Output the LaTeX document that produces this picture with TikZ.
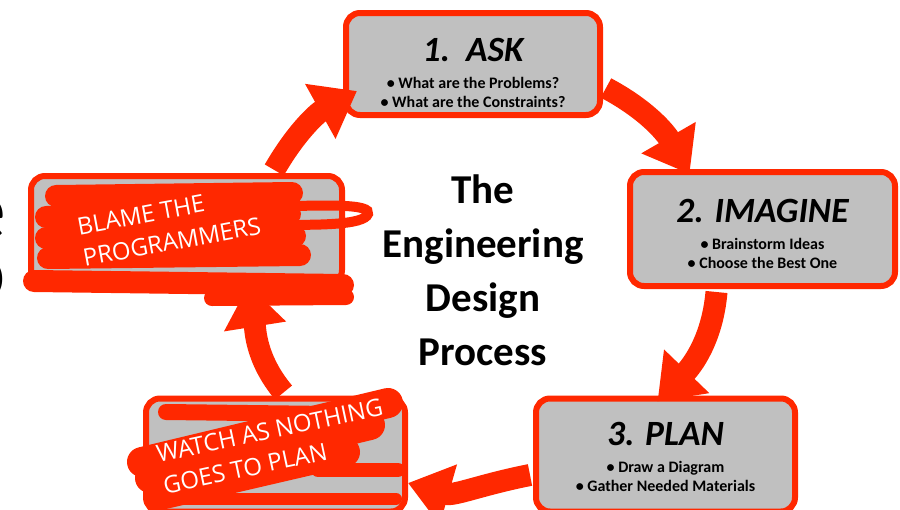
\documentclass[tikz,border=0pt]{standalone}
\usepackage{fontspec}
\setmainfont{Carlito}
\newfontfamily\scribblefont{Open Sans}
\usetikzlibrary{%
    arrows.meta,
    positioning
}
\definecolor{edpred}{RGB}{255,40,0}
\definecolor{boxgray}{RGB}{192,192,192}
\tikzset{stepbox/.style = {draw=edpred, fill=boxgray, line width=6pt, rounded corners=14pt, inner sep=0pt}}
\tikzset{steptitle/.style = {inner sep=0pt, font=\fontsize{35.5}{36}\selectfont\bfseries\itshape}}
\tikzset{stepitems/.style = {inner sep=0pt, align=center, font=\fontsize{16}{19}\selectfont\bfseries}}
\tikzset{cyclearrow/.style = {draw=edpred, line width=22pt, -{Triangle[length=42pt,width=60pt]}}}
\tikzset{scribble/.style = {draw=edpred, line width=22pt, line cap=round}}
\tikzset{scribbletext/.style = {text=white, inner sep=0pt, align=left, font=\scribblefont\fontsize{24}{32}\selectfont}}

\begin{document}
\begin{tikzpicture}[x=1pt, y=-1pt]
    \useasboundingbox (0,0) rectangle (900,509);

    \node[anchor=east, inner sep=0pt, font=\fontsize{88}{88}\selectfont] (edge-e) at (6,218) {e};
    \node[anchor=east, inner sep=0pt, font=\fontsize{88}{88}\selectfont] (edge-o) at (6,279) {o};

    \node[stepbox, minimum width=254pt, minimum height=102pt] (box-ask) at (473,64) {};
    \node[stepbox, minimum width=265pt, minimum height=114pt] (box-imagine) at (762.5,229) {};
    \node[stepbox, minimum width=259pt, minimum height=113pt] (box-plan) at (665.5,455) {};
    \node[stepbox, minimum width=259pt, minimum height=113pt] (box-watch) at (275.5,455) {};
    \node[stepbox, minimum width=311pt, minimum height=108pt] (box-blame) at (186.5,230) {};

    \node[steptitle, below=28pt of box-ask.north] (title-ask) {1.~~ASK};
    \node[stepitems, below=15pt of title-ask] (items-ask) {\textbullet{} What are the Problems?\\\textbullet{} What are the Constraints?};
    \node[steptitle, below=30pt of box-imagine.north] (title-imagine) {2. IMAGINE};
    \node[stepitems, below=15pt of title-imagine] (items-imagine) {\textbullet{} Brainstorm Ideas\\\textbullet{} Choose the Best One};
    \node[steptitle, below=27pt of box-plan.north] (title-plan) {3. PLAN};
    \node[stepitems, below=15pt of title-plan] (items-plan) {\textbullet{} Draw a Diagram\\\textbullet{} Gather Needed Materials};

    \node[align=center, inner sep=0pt, font=\fontsize{41}{54}\selectfont\bfseries] (cycle-title) at (483,270) {The\\Engineering\\Design\\Process};

    \draw[cyclearrow] ([yshift=3pt]box-blame.33) to[out=60, in=209] ([shift={(14pt,-27pt)}]box-ask.west);
    \draw[cyclearrow] ([shift={(3pt,-24pt)}]box-ask.east) to[out=-28, in=120] ([shift={(-73pt,-5pt)}]box-imagine.north);
    \draw[cyclearrow] ([shift={(-46pt,-3pt)}]box-imagine.south) to[out=-95, in=46] ([shift={(-8pt,-6pt)}]box-plan.north);
    \draw[cyclearrow] ([shift={(-3pt,-20pt)}]box-plan.west) to[out=191, in=-16] ([yshift=-28pt]box-watch.east);
    \draw[cyclearrow] ([shift={(8pt,3pt)}]box-watch.north) to[out=130, in=-81] ([shift={(62pt,2pt)}]box-blame.south);

    % scribbled over
    \draw[scribble] (56,196) -- (292,193);
    \draw[scribble] (46,217) -- (290,214);
    \draw[scribble] (46,238) -- (295,236);
    \draw[scribble] (48,258) -- (300,255);
    \draw[scribble] (34,281) -- (343,285);
    \draw[scribble, line width=16pt] (212,298) -- (346,297);
    \draw[scribble, line width=10pt] (250,208) .. controls (330,204) and (372,204) .. (368,214) .. controls (364,225) and (320,226) .. (250,224);

    \draw[scribble, line width=16pt] (166,412) -- (330,414);
    \draw[scribble, line width=30pt] (142,462) -- (388,403);
    \draw[scribble, line width=30pt] (150,478) -- (370,425);
    \draw[scribble, line width=30pt] (160,495) -- (345,452);
    \draw[scribble, line width=14pt] (318,470) -- (398,470);
    \draw[scribble, line width=12pt] (168,499) -- (396,499);

    \node[scribbletext, rotate=10.5] (note-blame) at (169,226) {BLAME THE\\PROGRAMMERS};
    \node[scribbletext, rotate=12] (note-watch) at (273,446) {WATCH AS NOTHING\\GOES TO PLAN};
\end{tikzpicture}
\end{document}
